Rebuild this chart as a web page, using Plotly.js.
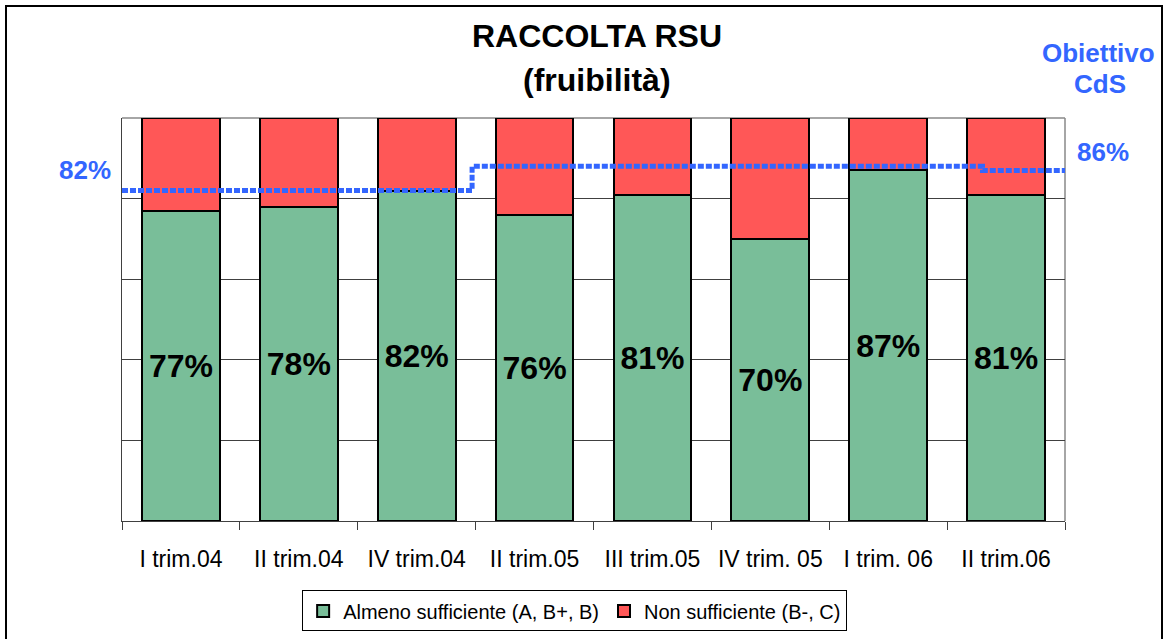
<!DOCTYPE html>
<html>
<head>
<meta charset="utf-8">
<script src="https://cdn.plot.ly/plotly-3.0.1.min.js"></script>
<style>
  html, body { margin: 0; padding: 0; background: #fff; }
  #chart { width: 1165px; height: 639px; }
  #frame { position: absolute; left: 5px; top: 5px; width: 1158px; height: 700px; border: 2px solid #000; box-sizing: border-box; pointer-events: none; }
</style>
</head>
<body>
<div id="chart"></div>
<div id="frame"></div>
<script>
const categories = ["I trim.04", "II trim.04", "IV trim.04", "II trim.05", "III trim.05", "IV trim. 05", "I trim. 06", "II trim.06"];
const almenoSufficiente = [77, 78, 82, 76, 81, 70, 87, 81];
const nonSufficiente = [23, 22, 18, 24, 19, 30, 13, 19];
const obiettivoX = [-0.5, 2.47, 2.47, 6.8, 6.8, 7.5];
const obiettivoY = [82, 82, 88, 88, 87, 87];

const FONT = "Arial, 'Liberation Sans', sans-serif";
const BLUE = "#3366FF";

const traces = [
  {
    type: "bar", name: "Almeno sufficiente (A, B+, B)",
    x: categories, y: almenoSufficiente,
    marker: { color: "#79BE99", line: { color: "#000", width: 2 } },
    width: 0.66,
    texttemplate: "%{y}%", textposition: "inside", insidetextanchor: "middle",
    textangle: 0, constraintext: "none",
    textfont: { family: FONT, size: 32, color: "#000", weight: "bold" },
    hoverinfo: "skip"
  },
  {
    type: "bar", name: "Non sufficiente (B-, C)",
    x: categories, y: nonSufficiente,
    marker: { color: "#FF5757", line: { color: "#000", width: 2 } },
    width: 0.66, textposition: "none",
    hoverinfo: "skip"
  },
  {
    type: "scatter", mode: "lines", name: "Obiettivo CdS", showlegend: false,
    x: obiettivoX, y: obiettivoY, xaxis: "x2",
    line: { color: BLUE, width: 5, dash: "6px,2px" },
    hoverinfo: "skip"
  }
];

const layout = {
  width: 1165, height: 639,
  margin: { l: 122, r: 100, t: 118, b: 118 },
  paper_bgcolor: "#fff", plot_bgcolor: "#fff",
  barmode: "stack", bargap: 0.34,
  font: { family: FONT, color: "#000" },
  xaxis: {
    type: "category", tickson: "boundaries", ticks: "outside", ticklen: 8, tickwidth: 1,
    tickcolor: "#404040", showline: true, linecolor: "#404040", linewidth: 1,
    showgrid: false, tickfont: { family: FONT, size: 23, color: "#000" },
    ticklabelstandoff: 17, range: [-0.5, 7.5], fixedrange: true, automargin: false
  },
  xaxis2: {
    overlaying: "x", range: [-0.5, 7.5], visible: false, fixedrange: true
  },
  yaxis: {
    range: [0, 100], dtick: 20, showticklabels: false, ticks: "",
    showgrid: true, gridcolor: "#404040", gridwidth: 1,
    showline: true, linecolor: "#404040", linewidth: 1,
    zeroline: false, fixedrange: true, automargin: false
  },
  shapes: [
    { type: "line", xref: "paper", yref: "paper", x0: 0, x1: 1, y0: 1, y1: 1, line: { color: "#888", width: 1.5 }, layer: "below" },
    { type: "line", xref: "paper", yref: "paper", x0: 1, x1: 1, y0: 0, y1: 1, line: { color: "#888", width: 1.5 }, layer: "below" }
  ],
  legend: {
    orientation: "h", xref: "paper", x: 0.48, xanchor: "center",
    yref: "container", y: 0.076, yanchor: "top",
    bordercolor: "#000", borderwidth: 1, bgcolor: "#fff",
    font: { family: FONT, size: 20, color: "#000" },
    traceorder: "normal", itemwidth: 30
  },
  annotations: [
    { text: "<b>RACCOLTA RSU</b>", xref: "paper", yref: "paper", x: 0.504, y: 1.2035, xanchor: "center", yanchor: "middle", showarrow: false, font: { family: FONT, size: 32, color: "#000" } },
    { text: "<b>(fruibilità)</b>", xref: "paper", yref: "paper", x: 0.504, y: 1.094, xanchor: "center", yanchor: "middle", showarrow: false, font: { family: FONT, size: 32, color: "#000" } },
    { text: "<b>82%</b>", xref: "paper", yref: "paper", x: -0.039, y: 0.871, xanchor: "center", yanchor: "middle", showarrow: false, font: { family: FONT, size: 26, color: BLUE } },
    { text: "<b>Obiettivo</b>", xref: "paper", yref: "paper", x: 1.036, y: 1.161, xanchor: "center", yanchor: "middle", showarrow: false, font: { family: FONT, size: 26, color: BLUE } },
    { text: "<b>CdS</b>", xref: "paper", yref: "paper", x: 1.037, y: 1.084, xanchor: "center", yanchor: "middle", showarrow: false, font: { family: FONT, size: 26, color: BLUE } },
    { text: "<b>86%</b>", xref: "paper", yref: "paper", x: 1.040, y: 0.9156, xanchor: "center", yanchor: "middle", showarrow: false, font: { family: FONT, size: 26, color: BLUE } }
  ]
};

Plotly.newPlot("chart", traces, layout, { displayModeBar: false, staticPlot: true });
</script>
</body>
</html>
